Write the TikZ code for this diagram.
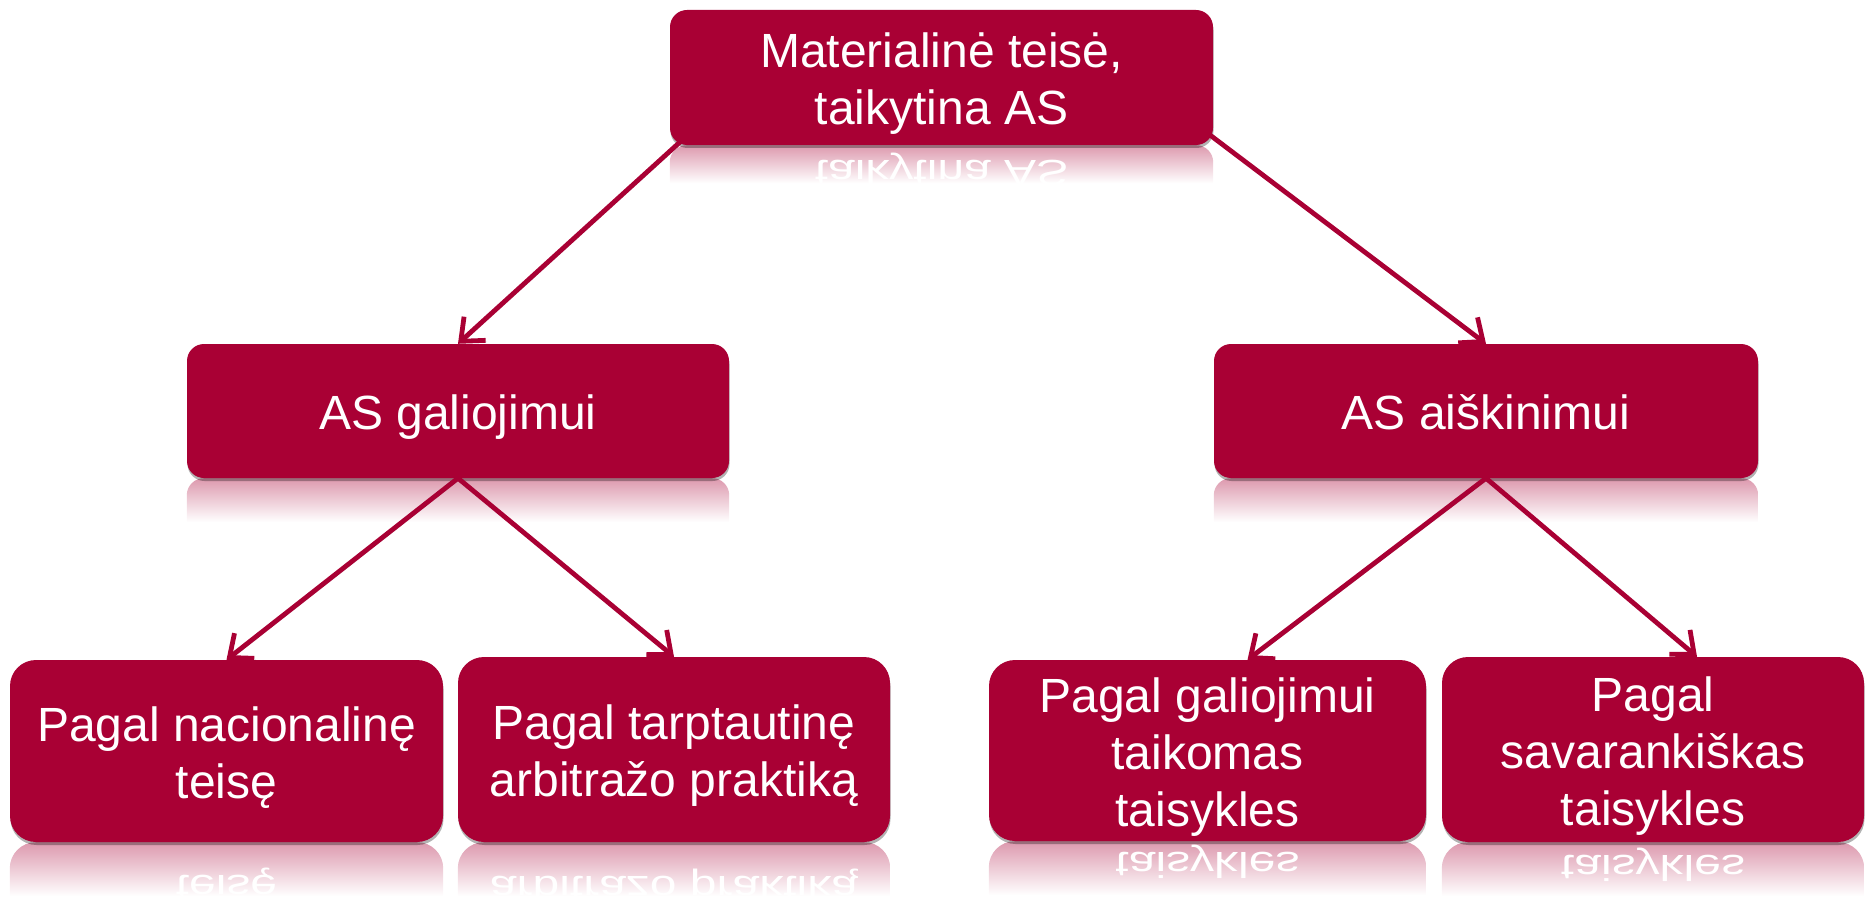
\documentclass[tikz,border=0pt]{standalone}
\usepackage{fontspec}
\setmainfont{Liberation Sans}
\usetikzlibrary{arrows.meta,calc,shadows,backgrounds}
\definecolor{boxred}{HTML}{A90034}
\colorlet{reflc}{boxred!40!white}
\newcommand\mirrorline[5]{%
  % #1 node, #2 name of mirrored line, #3 reflection height, #4 text of last line, #5 corner radius
  \begin{scope}
    \clip (#1.south west) rectangle ($(#1.south east)+(0,#3)$);
    \clip[rounded corners=#5] let \p1=(#1.north west), \p2=(#1.south east) in (\x1,\y2) rectangle (\x2,{2*\y2-\y1});
    \shade[top color=reflc, bottom color=white] (#1.south west) rectangle ($(#1.south east)+(0,#3)$);
    \path let \p1=(#1.base), \p2=(#1.south) in node[txt, yscale=-0.75, anchor=base] (#2) at (\x1,{\y2-0.75*(\y1-\y2)}) {#4};
  \end{scope}}
\begin{document}
\begin{tikzpicture}[x=1pt,y=-1pt,
  txt/.style={font=\fontsize{48}{57}\selectfont, text=white, align=center},
  box/.style={txt, fill=boxred, inner sep=0pt, rounded corners=#1, text depth=0pt,
    drop shadow={shadow xshift=0.5pt, shadow yshift=-3pt, opacity=0.3, fill=black}},
  one/.style={text height=37pt},
  two/.style={text height=94pt},
  three/.style={text height=151pt},
  conn/.style={draw=boxred, line width=4.8pt, -{Straight Barb[length=19pt,width=32pt,line width=4.8pt]},
    preaction={draw=black, opacity=0.18, transform canvas={shift={(1.5pt,-1.5pt)}}}}]
\useasboundingbox (0,0) rectangle (1866,904);

\node[box=17pt, two, minimum width=543pt, minimum height=135pt] (top) at (941.5,77.5) {Materialinė teisė,\\taikytina AS};
\node[box=17pt, one, minimum width=542pt, minimum height=134pt] (g) at (458,411) {AS galiojimui};
\node[box=17pt, one, minimum width=544pt, minimum height=134pt] (a) at (1486,411) {AS aiškinimui};
\node[box=26pt, two, minimum width=433pt, minimum height=182pt] (b1) at (226.5,751) {Pagal nacionalinę\\teisę};
\node[box=26pt, two, minimum width=432pt, minimum height=185pt] (b2) at (674,749.5) {Pagal tarptautinę\\arbitražo praktiką};
\node[box=26pt, three, minimum width=437pt, minimum height=181pt] (b3) at (1207.5,750.5) {Pagal galiojimui\\taikomas\\taisykles};
\node[box=26pt, three, minimum width=422pt, minimum height=185pt] (b4) at (1653,749.5) {Pagal\\savarankiškas\\taisykles};

\begin{scope}[on background layer]
  \mirrorline{top}{topr}{38}{taikytina AS}{17pt}
  \mirrorline{g}{gr}{44}{}{17pt}
  \mirrorline{a}{ar}{44}{}{17pt}
  \mirrorline{b1}{b1r}{54}{teisę}{26pt}
  \mirrorline{b2}{b2r}{54}{arbitražo praktiką}{26pt}
  \mirrorline{b3}{b3r}{54}{taisykles}{26pt}
  \mirrorline{b4}{b4r}{54}{taisykles}{26pt}
\end{scope}

\draw[conn] ($(top.south west)+(10,-3)$) -- (g.north);
\draw[conn] ($(top.south east)+(-3,-10)$) -- (a.north);
\draw[conn] (g.south) -- (b1.north);
\draw[conn] (g.south) -- (b2.north);
\draw[conn] (a.south) -- ($(b3.north)+(40,0)$);
\draw[conn] (a.south) -- ($(b4.north)+(44,0)$);
\end{tikzpicture}
\end{document}
